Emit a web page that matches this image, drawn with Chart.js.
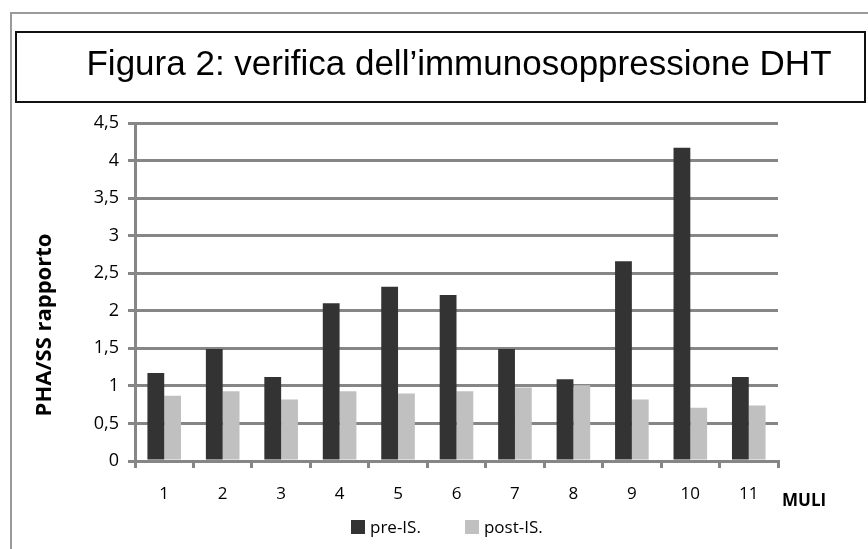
<!DOCTYPE html>
<html>
<head>
<meta charset="utf-8">
<script src="https://cdn.jsdelivr.net/npm/chart.js@4/dist/chart.umd.min.js"></script>
<style>
  html, body { margin: 0; padding: 0; background: #fff; }
  #wrap { position: relative; width: 868px; height: 549px; }
  #legend {
    position: absolute; left: 351px; top: 515px;
    display: flex; align-items: center;
    font: 17px "Open Sans", sans-serif; color: #000;
  }
  #legend .item { display: flex; align-items: center; margin-right: 44px; }
  #legend .swatch { width: 14px; height: 14px; margin-right: 5px; }
</style>
</head>
<body>
<div id="wrap">
  <canvas id="chart" width="868" height="549"></canvas>
  <div id="legend"></div>
</div>
<script>
// --- DATA ---
const muli = ['1', '2', '3', '4', '5', '6', '7', '8', '9', '10', '11'];
const preIS = [1.17, 1.49, 1.12, 2.10, 2.32, 2.21, 1.49, 1.09, 2.66, 4.17, 1.12];
const postIS = [0.87, 0.93, 0.82, 0.93, 0.90, 0.93, 0.98, 1.01, 0.82, 0.71, 0.74];
const yTickLabels = ['0', '0,5', '1', '1,5', '2', '2,5', '3', '3,5', '4', '4,5'];

const TITLE = 'Figura 2: verifica dell\u2019immunosoppressione DHT';
const Y_CAPTION = 'PHA/SS rapporto';
const X_CAPTION = 'MULI';
const GRID = '#868686';
const LABEL_FONT = 'Open Sans';

// outer frame, boxed title and the two axis captions
const decorations = {
    id: 'decorations',
    beforeDraw(chart) {
        const ctx = chart.ctx;
        ctx.save();
        ctx.fillStyle = '#fff';
        ctx.fillRect(0, 0, chart.width, chart.height);
        ctx.strokeStyle = '#9a9a9a';
        ctx.lineWidth = 2;
        ctx.beginPath();
        ctx.moveTo(11, chart.height);
        ctx.lineTo(11, 13);
        ctx.lineTo(chart.width, 13);
        ctx.stroke();
        ctx.strokeStyle = '#111';
        ctx.lineWidth = 2;
        ctx.strokeRect(16, 32, chart.width - 16 - 3, 70);

        ctx.font = '35px "Liberation Sans"';
        ctx.fillStyle = '#000';
        ctx.textAlign = 'center';
        ctx.textBaseline = 'alphabetic';
        ctx.fillText(TITLE, 459, 75);
        ctx.restore();
    },
    afterDraw(chart) {
        const ctx = chart.ctx;
        const area = chart.chartArea;
        ctx.save();
        ctx.fillStyle = '#000';
        ctx.textBaseline = 'middle';

        ctx.font = 'bold 17px "' + LABEL_FONT + '"';
        ctx.textAlign = 'left';
        ctx.fillText(X_CAPTION, area.right + 4, area.bottom + 40);

        ctx.font = 'bold 22px "' + LABEL_FONT + '"';
        ctx.textAlign = 'center';
        ctx.translate(45, 325);
        ctx.rotate(-Math.PI / 2);
        ctx.fillText(Y_CAPTION, 0, 0);
        ctx.restore();
    }
};

// legend below the plot, built from the datasets
const htmlLegend = {
    id: 'htmlLegend',
    afterUpdate(chart) {
        const box = document.getElementById('legend');
        box.innerHTML = '';
        chart.data.datasets.forEach(ds => {
            const item = document.createElement('span');
            item.className = 'item';
            const swatch = document.createElement('span');
            swatch.className = 'swatch';
            swatch.style.background = ds.backgroundColor;
            const text = document.createElement('span');
            text.textContent = ds.label;
            item.appendChild(swatch);
            item.appendChild(text);
            box.appendChild(item);
        });
    }
};

new Chart(document.getElementById('chart'), {
    type: 'bar',
    data: {
        labels: muli,
        datasets: [
            {
                label: 'pre-IS.',
                data: preIS,
                backgroundColor: '#333333',
                borderWidth: 0,
                categoryPercentage: 0.575,
                barPercentage: 1.0
            },
            {
                label: 'post-IS.',
                data: postIS,
                backgroundColor: '#c0c0c0',
                borderWidth: 0,
                categoryPercentage: 0.575,
                barPercentage: 1.0
            }
        ]
    },
    options: {
        responsive: false,
        animation: false,
        layout: { padding: { left: 30, right: 90, top: 123, bottom: 38 } },
        scales: {
            x: {
                grid: {
                    display: true,
                    drawOnChartArea: false,
                    drawTicks: true,
                    tickLength: 7,
                    color: GRID,
                    lineWidth: 3
                },
                border: { color: GRID, width: 3 },
                ticks: {
                    color: '#000',
                    padding: 16,
                    font: { family: LABEL_FONT, size: 17 }
                },
                afterFit(scale) { scale.height = 50; }
            },
            y: {
                min: 0,
                max: 4.5,
                ticks: {
                    stepSize: 0.5,
                    color: '#000',
                    padding: 9,
                    font: { family: LABEL_FONT, size: 18 },
                    callback: (v, i) => yTickLabels[i]
                },
                grid: {
                    color: GRID,
                    lineWidth: 3,
                    tickLength: 7
                },
                border: { color: GRID, width: 3 },
                afterFit(scale) { scale.width = 105; }
            }
        },
        plugins: {
            title: { display: false },
            legend: { display: false },
            tooltip: { enabled: false }
        }
    },
    plugins: [decorations, htmlLegend]
});
</script>
</body>
</html>
